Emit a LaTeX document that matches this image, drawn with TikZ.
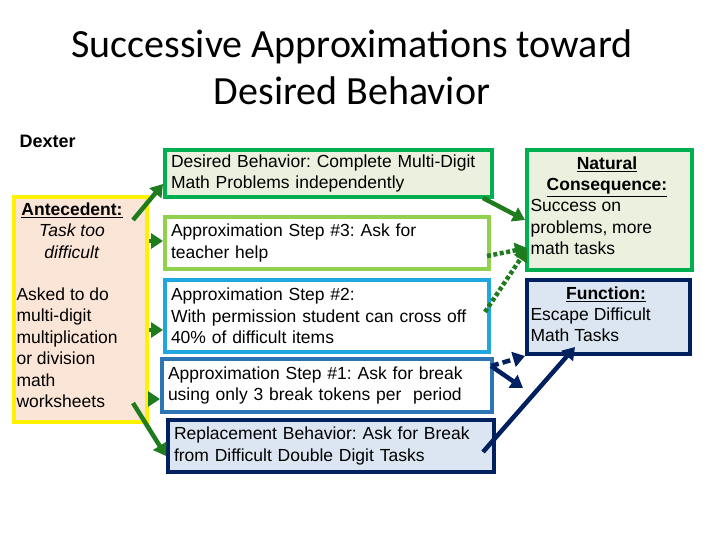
\documentclass[tikz,border=0pt]{standalone}
\usepackage{fontspec}
\setmainfont{Liberation Sans}
\newfontfamily\titlefont{Carlito}
\usetikzlibrary{arrows.meta}
\frenchspacing
\definecolor{grn}{HTML}{00B050}
\definecolor{lgrn}{HTML}{92D050}
\definecolor{sky}{HTML}{1FA8DF}
\definecolor{midblue}{HTML}{2E75B6}
\definecolor{navy}{HTML}{002060}
\definecolor{dgrn}{HTML}{1E7B1E}
\definecolor{peach}{HTML}{FBE5D6}
\definecolor{pgreen}{HTML}{EBF1DE}
\definecolor{pblue}{HTML}{DCE6F2}
\newcommand\bodyfont{\fontsize{17.5}{21.5}\selectfont}
\tikzset{
  box/.style={draw=#1,line width=4pt,anchor=north west,inner sep=4pt,align=left,font=\bodyfont},
  arr/.style={-{Triangle[length=12pt,width=15pt]},line width=4.5pt,dgrn},
  dotarr/.style={arr,line cap=butt,dash pattern=on 4pt off 2.5pt},
  navyarr/.style={arr,navy}
}
\begin{document}
\begin{tikzpicture}[x=1pt,y=-1pt]
\useasboundingbox[fill=white](0,0)rectangle(720,540);
\node[font=\titlefont\fontsize{40}{47}\selectfont,align=center](title) at (352,67)
  {Successive Approximations toward\\Desired Behavior};
\node[anchor=west,font=\bfseries\fontsize{18}{20}\selectfont](dexter) at (16,141){Dexter};
% left
\node[box=yellow,fill=peach,minimum width=133pt,minimum height=225pt](ante) at (12,195){};
\node[anchor=north,align=center,font=\bodyfont](antet) at (72,199)
  {\textbf{\underline{Antecedent:}}\\\textit{Task too}\\\textit{difficult}};
\node[anchor=north west,align=left,font=\bodyfont](asked) at (13,284)
  {Asked to do\\multi-digit\\multiplication\\or division\\math\\worksheets};
% middle
\node[box=grn,fill=pgreen,minimum width=327pt,minimum height=47pt,text width=315pt](desired) at (163,148)
  {Desired Behavior: Complete Multi-Digit\\Math Problems independently};
\node[box=lgrn,fill=white,minimum width=324pt,minimum height=52pt,text width=312pt](step3) at (163,215)
  {Approximation Step \#3: Ask for\\teacher help};
\node[box=sky,fill=white,minimum width=324pt,minimum height=72pt,text width=312pt](step2) at (163,278)
  {Approximation Step \#2:\\With permission student can cross off\\40\% of difficult items};
\node[box=midblue,fill=white,minimum width=330pt,minimum height=53pt,text width=318pt](step1) at (160,357)
  {Approximation Step \#1: Ask for break\\using only 3 break tokens per\ \ period};
\node[box=navy,fill=pblue,minimum width=326pt,minimum height=52pt,text width=314pt](repl) at (166,418)
  {Replacement Behavior: Ask for Break\\from Difficult Double Digit Tasks};
% right
\node[box=grn,fill=pgreen,minimum width=165pt,minimum height=120pt](nat) at (525,148){};
\node[anchor=north,align=center,font=\bodyfont](natt) at (607,153)
  {\textbf{\underline{Natural}}\\\textbf{\underline{Consequence:}}};
\node[anchor=north west,align=left,font=\bodyfont](natb) at (527,196)
  {Success on\\problems, more\\math tasks};
\node[box=navy,fill=pblue,minimum width=163pt,minimum height=74pt](func) at (525,278){};
\node[anchor=north,font=\bfseries\bodyfont](funct) at (606,283){\underline{Function:}};
\node[anchor=north west,align=left,font=\bodyfont](funcb) at (527,304)
  {Escape Difficult\\Math Tasks};
% arrows left
\coordinate (a1) at (133,220);
\coordinate (a5) at (133,403);
\draw[arr](a1)--(desired.south west|-0,184);
\draw[arr](ante.east|-0,241)--(step3.west|-0,241);
\draw[arr](ante.east|-0,330)--(step2.west|-0,330);
\draw[arr](ante.east|-0,399)--(step1.west|-0,399);
\draw[arr](a5)--(166,456);
% arrows right
\coordinate (r1) at (483,198);
\coordinate (r3) at (487,256);
\coordinate (r2) at (485,312);
\coordinate (r4) at (491,366);
\coordinate (r4e) at (523,388);
\coordinate (r5) at (483,452);
\draw[arr](r1)--(525,220);
\draw[dotarr](r3)--(527,248);
\draw[dotarr](r2)--(527,249);
\draw[navyarr,dash pattern=on 8pt off 4pt](r4)--(func.south west);
\draw[navyarr](r4)--(r4e);
\draw[navyarr](r5)--(575,347);
\end{tikzpicture}
\end{document}
